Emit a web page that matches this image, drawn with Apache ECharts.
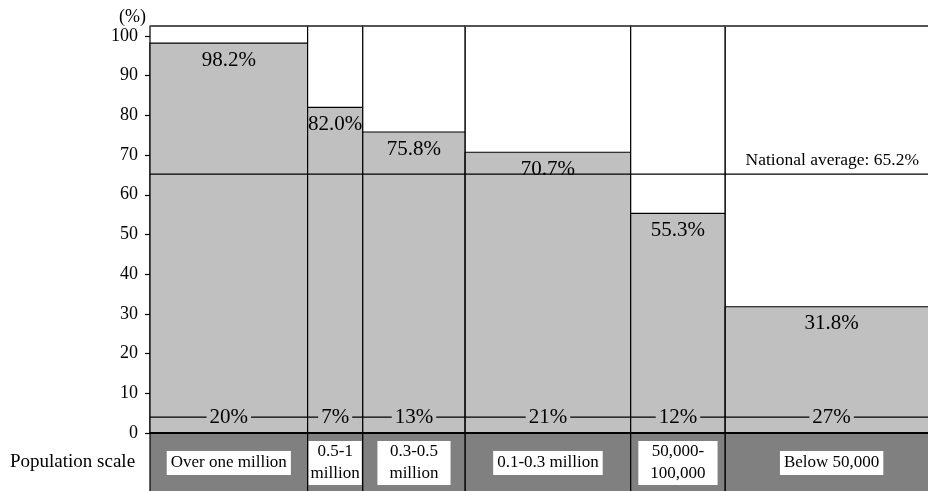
<!DOCTYPE html>
<html>
<head>
<meta charset="utf-8">
<script src="https://cdn.jsdelivr.net/npm/echarts@6/dist/echarts.min.js"></script>
<style>
html, body { margin: 0; padding: 0; background: #fff; }
#main { width: 928px; height: 491px; }
</style>
</head>
<body>
<div id="main"></div>
<script>
// population scale groups, their share of population (%) and the rate (%)
var scaleNames = ['Over one million', '0.5-1\nmillion', '0.3-0.5\nmillion', '0.1-0.3 million', '50,000-\n100,000', 'Below 50,000'];
var shares = [20, 7, 13, 21, 12, 27];
var rates = [98.2, 82.0, 75.8, 70.7, 55.3, 31.8];
var nationalAverage = 65.2;
var yTicks = [0, 10, 20, 30, 40, 50, 60, 70, 80, 90, 100];
var yTop = 102.5;      // top border of the frame
var shareLineAt = 4;   // where the share labels sit

var FONT = '"Liberation Serif", "Times New Roman", serif';

// columns: [start, end, rate, share]
var cols = [];
var acc = 0;
for (var i = 0; i < shares.length; i++) {
    cols.push([acc, acc + shares[i], rates[i], shares[i]]);
    acc += shares[i];
}

function renderColumn(params, api) {
    var x0 = api.value(0), x1 = api.value(1), v = api.value(2);
    var tl = api.coord([x0, yTop]);
    var br = api.coord([x1, 0]);
    var bt = api.coord([x0, v]);
    var w = br[0] - tl[0];
    var mid = (tl[0] + br[0]) / 2;
    var bottom = api.getHeight();
    var name = scaleNames[params.dataIndex];
    var twoLine = name.indexOf('\n') >= 0;
    return {
        type: 'group',
        children: [
            { type: 'rect', shape: { x: tl[0], y: tl[1], width: w, height: br[1] - tl[1] },
              style: { fill: '#fff', stroke: '#000', lineWidth: 1.2 } },
            { type: 'rect', shape: { x: tl[0], y: bt[1], width: w, height: br[1] - bt[1] },
              style: { fill: '#c0c0c0', stroke: '#000', lineWidth: 1.2 } },
            { type: 'rect', shape: { x: tl[0], y: br[1], width: w, height: bottom - br[1] + 2 },
              style: { fill: '#808080', stroke: '#000', lineWidth: 1.2 } },
            { type: 'line', shape: { x1: tl[0], y1: tl[1], x2: br[0], y2: tl[1] },
              style: { stroke: '#555', lineWidth: 2 } },
            { type: 'text', x: mid, y: bt[1] + 17,
              style: { text: v.toFixed(1) + '%', fill: '#000', font: '21px ' + FONT,
                       align: 'center', verticalAlign: 'middle' } },
            { type: 'text', x: mid, y: br[1] + 30,
              style: { text: name, fill: '#000', font: '17px ' + FONT, lineHeight: twoLine ? 22 : 20,
                       align: 'center', verticalAlign: 'middle', backgroundColor: '#fff',
                       padding: twoLine ? [0, w < 70 ? 2 : 12] : [2, 4] } }
        ]
    };
}

function renderLines(params, api) {
    var avg = api.value(1);
    var a0 = api.coord([0, avg]), a1 = api.coord([100, avg]);
    var s0 = api.coord([0, shareLineAt]), s1 = api.coord([100, shareLineAt]);
    var z0 = api.coord([0, 0]), z1 = api.coord([100, 0]);
    return {
        type: 'group',
        children: [
            { type: 'line', shape: { x1: a0[0], y1: a0[1], x2: a1[0], y2: a1[1] },
              style: { stroke: '#000', lineWidth: 1.2 } },
            { type: 'line', shape: { x1: s0[0], y1: s0[1], x2: s1[0], y2: s1[1] },
              style: { stroke: '#000', lineWidth: 1.2 } },
            { type: 'line', shape: { x1: z0[0], y1: z0[1], x2: z1[0], y2: z1[1] },
              style: { stroke: '#000', lineWidth: 2 } },
            { type: 'text', x: api.getWidth() - 9, y: a0[1] - 14,
              style: { text: 'National average: ' + avg.toFixed(1) + '%', fill: '#000',
                       font: '17.5px ' + FONT, align: 'right', verticalAlign: 'middle' } }
        ]
    };
}

function renderShare(params, api) {
    var x0 = api.value(0), x1 = api.value(1);
    var p0 = api.coord([x0, shareLineAt]), p1 = api.coord([x1, shareLineAt]);
    return {
        type: 'text', x: (p0[0] + p1[0]) / 2, y: p0[1],
        style: { text: api.value(3) + '%', fill: '#000', font: '21px ' + FONT,
                 align: 'center', verticalAlign: 'middle', backgroundColor: '#c0c0c0',
                 padding: [0, 3] }
    };
}

var chart = echarts.init(document.getElementById('main'));
chart.setOption({
    animation: false,
    backgroundColor: '#fff',
    grid: { left: 150, width: 788, top: 26, bottom: 58, outerBoundsMode: 'none', containLabel: false },
    xAxis: { type: 'value', min: 0, max: 100, show: false },
    yAxis: {
        type: 'value', min: 0, max: yTop,
        name: '(%)', nameLocation: 'end', nameGap: 0,
        nameTextStyle: { color: '#000', fontFamily: FONT, fontSize: 18, align: 'right', padding: [0, 4, 0, 0] },
        axisLine: { show: false },
        axisTick: { show: true, length: 5, inside: false, customValues: yTicks, lineStyle: { color: '#000', width: 1.2 } },
        axisLabel: { customValues: yTicks, color: '#000', fontFamily: FONT, fontSize: 18, margin: 12 },
        splitLine: { show: false }
    },
    graphic: [
        { type: 'text', left: 10, top: 453,
          style: { text: 'Population scale', fill: '#000', font: '19px ' + FONT } }
    ],
    series: [
        { type: 'custom', z: 2, renderItem: renderColumn, data: cols },
        { type: 'custom', z: 3, renderItem: renderLines, data: [[0, nationalAverage]] },
        { type: 'custom', z: 4, renderItem: renderShare, data: cols }
    ]
});
</script>
</body>
</html>
